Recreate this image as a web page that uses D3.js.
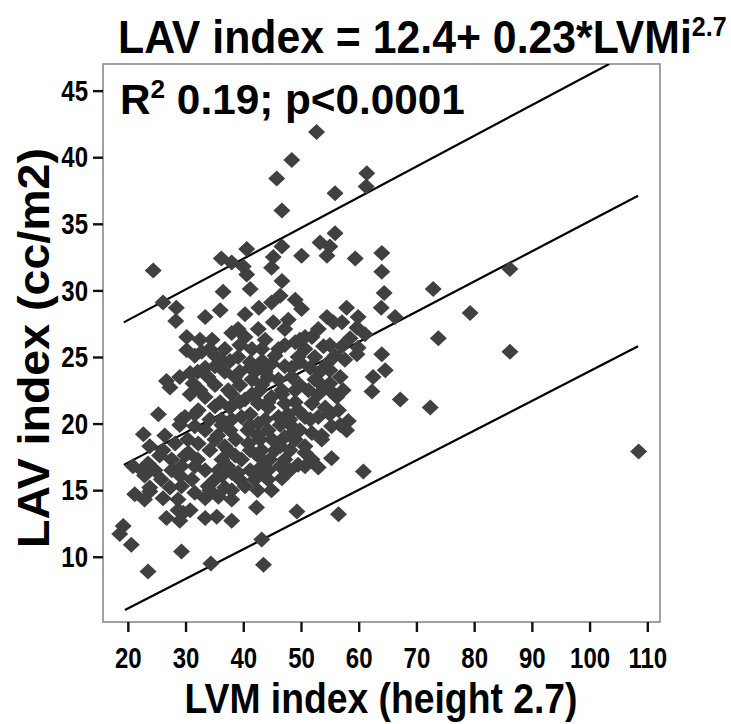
<!DOCTYPE html>
<html><head><meta charset="utf-8">
<script src="https://cdn.jsdelivr.net/npm/d3@7"></script>
<style>
body{margin:0;background:#fff}
text{font-family:"Liberation Sans",Arial,Helvetica,sans-serif;font-weight:bold;fill:#000}
</style>
</head><body>
<svg id="chart" width="731" height="724"></svg>
<script>
// ---- data ----
const xTicks = [20,30,40,50,60,70,80,90,100,110];
const yTicks = [10,15,20,25,30,35,40,45];
const xDomain = [15.7,112.2];
const yDomain = [5.1,47.0];
const titleMain = "LAV index = 12.4+ 0.23*LVMi";
const titleSup = "2.7";
const statText = " 0.19; p<0.0001";
const xLabel = "LVM index (height 2.7)";
const yLabel = "LAV index (cc/m2)";
// regression line and its bounds (endpoints)
const upperLine = [[19.3,27.6],[103.4,47.0]];
const midLine   = [[19.3,16.9],[108.4,37.1]];
const lowerLine = [[19.5,6.0],[108.4,25.8]];
// scatter points [LVM index, LAV index]
const pointsSparse = [
[52.7,41.9],[48.4,39.8],[45.8,38.4],[46.7,36.0],[55.9,37.3],[61.4,38.8],[61.3,37.8],[24.4,31.5],[40.6,33.1],[36.2,32.4],
[38.0,32.1],[40.0,31.8],[45.2,32.5],[46.7,33.3],[50.1,32.6],[53.3,33.6],[55.9,34.3],[55.0,33.3],[54.5,32.6],[59.4,32.4],
[64.0,32.8],[64.0,31.4],[64.4,29.8],[63.9,28.7],[66.3,28.0],[44.9,31.7],[40.6,31.2],[46.7,30.7],[36.5,29.9],[41.2,30.1],
[26.1,29.1],[28.4,28.7],[28.3,27.7],[33.4,28.0],[36.0,28.5],[40.3,28.2],[42.7,28.7],[46.4,29.6],[49.0,29.3],[50.1,28.6],
[57.9,28.7],[59.9,28.0]
];
const pointsOuter = [
[72.9,30.1],[79.3,28.3],[86.2,31.6],[73.8,26.4],[86.2,25.4],[67.2,21.8],[72.4,21.2],[108.5,17.9],[64.0,25.2],[64.6,24.0],
[62.5,23.5],[62.3,22.4],[60.8,16.4],[56.5,13.2],[49.3,13.4],[43.2,11.3],[43.5,9.4],[34.4,9.5],[23.5,8.9],[29.3,10.4],
[20.6,10.9],[19.2,12.3],[18.6,11.7],[42.3,13.7],[38.0,12.7],[33.4,12.9],[35.4,13.0],[29.6,13.3],[29.0,12.7],[26.7,12.9],
[28.7,13.5],[30.8,13.5],[21.2,14.7],[23.8,14.9],[26.1,14.4],[22.4,16.5],[20.9,16.8],[22.7,19.2],[25.3,20.7],[26.7,23.2],
[27.3,22.7],[30.2,26.5],[30.2,25.5],[32.8,25.4],[30.8,23.8],[31.3,23.0],[29.3,20.3],[29.9,20.5],[53.0,16.7],[55.3,17.4],
[57.9,19.5],[58.2,20.2],[56.5,21.0],[56.2,22.0],[57.3,22.5],[53.6,18.8],[51.9,19.3],[55.3,19.8],[59.7,25.2],[59.7,27.2],
[61.1,26.7],[58.5,26.4],[59.9,25.7],[57.1,27.6],[55.6,27.6],[54.5,28.0]
];
const pointsCore = [
[38.0,26.8],[40.3,26.5],[42.6,27.1],[39.1,27.1],[35.1,24.3],[36.2,24.8],[33.9,23.5],[39.1,25.0],[41.5,25.6],[42.3,24.0],
[41.5,23.3],[33.4,22.0],[35.1,21.3],[32.2,21.0],[37.4,22.5],[40.3,21.8],[42.6,21.5],[36.2,20.3],[39.7,20.5],[42.6,20.0],
[31.6,19.8],
[53.0,27.1],[51.9,26.5],[53.9,25.8],[57.1,25.8],[57.6,24.8],[54.5,24.5],[52.4,25.0],[55.0,24.0],[55.0,23.0],[52.4,23.3],
[51.9,21.5],[53.0,20.5],[50.7,20.5],[51.3,22.5],[49.0,22.5],[49.5,25.0],[50.7,26.5],[49.0,26.1],[47.2,27.1],[45.2,27.6],
[44.9,29.1],[47.8,27.8],[46.1,25.6],[44.9,24.5],[47.2,24.3],[46.1,23.3],[48.4,23.5],[44.9,22.0],[47.2,21.5],[49.5,21.0],
[46.1,20.5],[48.4,19.8],
[25.8,15.8],[27.6,16.5],[29.3,15.3],[31.6,14.8],[33.4,14.4],[35.7,14.5],[38.0,15.0],[40.3,15.3],[42.0,15.8],[43.2,16.8],
[30.5,17.8],[32.2,18.5],[35.1,18.8],[37.4,18.0],[39.7,17.3],[40.9,18.5],[33.4,16.5],[35.7,16.5],[38.0,16.3],[29.3,16.8],
[26.1,18.0],[28.2,18.5],[31.1,15.8],[33.9,15.3],[39.1,16.3],[23.5,17.0],
[50.7,17.8],[49.5,16.9],[46.7,15.9],[44.9,15.0],[45.5,18.0],[47.2,19.0],[44.3,16.5]
];
const pointsFill = [
[32.5,26.3],[34.6,26.3],[43.8,26.3],[49.8,26.3],[34.2,25.6],[36.8,25.6],[43.2,25.6],[50.7,25.6],[37.7,24.7],[41.2,24.6],
[43.3,24.7],[49.8,24.6],[32.1,23.9],[36.8,23.9],[39.4,23.9],[43.8,23.9],[53.3,23.9],[35.1,22.9],[39.4,22.9],[43.2,22.9],
[49.8,22.9],[53.6,22.9],[30.8,22.2],[38.0,22.2],[41.5,22.2],[46.7,22.2],[53.0,22.2],[37.7,21.2],[44.3,21.2],[54.2,21.2],
[34.2,20.3],[38.0,20.3],[43.8,20.3],[48.1,20.3],[51.6,20.3],[33.4,19.5],[37.7,19.5],[40.8,19.5],[44.3,19.5],[49.8,19.5],
[30.4,18.8],[38.7,18.8],[42.9,18.8],[45.0,18.8],[49.0,18.8],[34.2,18.0],[41.2,18.0],[43.2,18.0],[48.1,18.0],[27.6,17.3],
[32.1,17.3],[36.3,17.3],[44.6,17.3],[47.2,17.3],[51.9,17.3],[24.7,16.5],[41.2,16.5],[48.1,16.5],[35.1,15.8],[39.4,15.8],
[44.3,15.8],[23.8,15.2],[27.3,15.2],[36.8,15.2],[22.9,14.3],[28.7,14.3],[38.0,14.3]
];
const pointsFill2 = [
[39.4,25.9],[47.2,25.9],[55.0,25.9],[31.6,25.1],[35.1,25.1],[45.5,25.1],[55.9,25.1],[33.4,24.2],[41.2,24.2],[48.4,24.2],
[51.6,24.2],[29.0,23.5],[38.6,23.5],[44.3,23.5],[56.8,23.5],[32.5,22.5],[42.9,22.5],[46.7,22.5],[55.0,22.5],[36.0,21.6],
[39.4,21.6],[44.3,21.6],[49.0,21.6],[31.6,20.7],[41.2,20.7],[47.7,20.7],[55.0,20.7],[29.0,19.9],[36.3,19.9],[41.2,19.9],
[46.4,19.9],[56.8,19.9],[26.4,19.1],[35.6,19.1],[42.5,19.1],[48.1,19.1],[53.6,19.1],[23.8,18.3],[36.8,18.3],[46.4,18.3],
[50.7,18.3],[25.5,17.6],[29.9,17.6],[38.6,17.6],[42.5,17.6],[31.6,16.8],[37.3,16.8],[46.4,16.8],[50.7,16.8],[22.9,16.1],
[29.0,16.1],[36.3,16.1],[42.5,16.1],[34.2,15.0],[42.5,15.0]
];
const points = pointsSparse.concat(pointsOuter, pointsCore, pointsFill, pointsFill2);

// ---- drawing ----
const svg = d3.select("#chart");
const box = {left:103, right:660, top:64, bottom:622};
const x = d3.scaleLinear().domain(xDomain).range([box.left, box.right]);
const y = d3.scaleLinear().domain(yDomain).range([box.bottom, box.top]);

svg.append("defs").append("clipPath").attr("id","plotclip")
  .append("rect").attr("x",box.left).attr("y",box.top)
  .attr("width",box.right-box.left).attr("height",box.bottom-box.top);

// frame
svg.append("rect").attr("x",box.left).attr("y",box.top)
  .attr("width",box.right-box.left).attr("height",box.bottom-box.top)
  .attr("fill","none").attr("stroke","#8a8a8a").attr("stroke-width",1.6);

const cond = 0.8; // horizontal condensing of the tick font
// axes
const yAxis = d3.axisLeft(y).tickValues(yTicks).tickSize(10).tickPadding(5).tickFormat(d3.format("d"));
const gy = svg.append("g").attr("transform",`translate(${box.left},0)`).call(yAxis);
gy.select(".domain").remove();
gy.selectAll(".tick line").attr("stroke","#111").attr("stroke-width",2.4);
gy.selectAll(".tick text").attr("font-size",30).attr("font-family",null).attr("fill","#000")
  .attr("x",-15/cond).attr("transform",`scale(${cond},1)`);

const xAxis = d3.axisBottom(x).tickValues(xTicks).tickSize(10).tickPadding(15).tickFormat(d3.format("d"));
const gx = svg.append("g").attr("transform",`translate(0,${box.bottom})`).call(xAxis);
gx.select(".domain").remove();
gx.selectAll(".tick line").attr("stroke","#111").attr("stroke-width",2.4);
gx.selectAll(".tick text").attr("font-size",30).attr("font-family",null).attr("fill","#000")
  .attr("transform",`scale(${cond},1)`);
svg.selectAll(".tick text").style("font-weight","bold");

// lines
const line = d3.line().x(d=>x(d[0])).y(d=>y(d[1]));
const gl = svg.append("g").attr("clip-path","url(#plotclip)");
[upperLine, midLine, lowerLine].forEach(l=>{
  gl.append("path").attr("d",line(l)).attr("fill","none").attr("stroke","#000").attr("stroke-width",2.2);
});

// points
const diamond = "M0,-8L8.5,0L0,8L-8.5,0Z";
svg.append("g").attr("clip-path","url(#plotclip)").selectAll("path.pt").data(points).join("path")
  .attr("class","pt").attr("d",diamond)
  .attr("transform",d=>`translate(${x(d[0])},${y(d[1])})`)
  .attr("fill","#404040");

// helper: squeeze text horizontally to a target width
function fit(sel, tx, ty, width, rotate){
  const w = sel.node().getBBox().width;
  const s = width / w;
  sel.attr("transform", `translate(${tx},${ty})` + (rotate ? " rotate(-90)" : "") + ` scale(${s},1)`);
}

// title
const t = svg.append("text").attr("x",0).attr("y",0).attr("font-size",46);
t.append("tspan").text(titleMain);
t.append("tspan").attr("font-size",27).attr("dy",-17).text(titleSup);
fit(t, 118, 53, 609);

// stat annotation
const s = svg.append("text").attr("x",0).attr("y",0).attr("font-size",42);
s.append("tspan").text("R");
s.append("tspan").attr("font-size",26).attr("dy",-16).text("2");
s.append("tspan").attr("dy",16).text(statText);
fit(s, 120, 114, 345);

// axis labels
const xl = svg.append("text").attr("x",0).attr("y",0).attr("text-anchor","middle").attr("font-size",42).text(xLabel);
fit(xl, 381, 713, 393);
const yl = svg.append("text").attr("x",0).attr("y",0).attr("text-anchor","middle").attr("font-size",44).text(yLabel);
fit(yl, 49, 348, 400, true);
</script>
</body></html>
